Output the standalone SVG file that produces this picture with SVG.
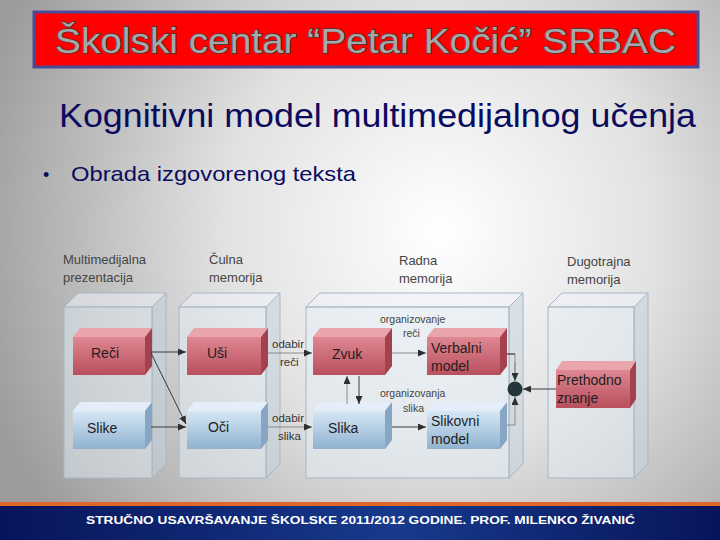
<svg xmlns="http://www.w3.org/2000/svg" width="720" height="540" viewBox="0 0 720 540">
<defs>
<radialGradient id="bg" cx="440" cy="230" r="480" gradientUnits="userSpaceOnUse">
<stop offset="0" stop-color="#ffffff"/>
<stop offset="0.45" stop-color="#e2e2e2"/>
<stop offset="1" stop-color="#9c9c9c"/>
</radialGradient>
<linearGradient id="foot" x1="0" y1="0" x2="1" y2="0">
<stop offset="0" stop-color="#08145a"/>
<stop offset="0.55" stop-color="#173a8c"/>
<stop offset="1" stop-color="#08145a"/>
</linearGradient>
<linearGradient id="redF" x1="0" y1="0" x2="0" y2="1">
<stop offset="0" stop-color="#de8792"/>
<stop offset="1" stop-color="#b84f5d"/>
</linearGradient>
<linearGradient id="bluF" x1="0" y1="0" x2="0" y2="1">
<stop offset="0" stop-color="#d6e7f5"/>
<stop offset="1" stop-color="#90b2d0"/>
</linearGradient>
<marker id="arr" markerWidth="8" markerHeight="7" refX="8" refY="3.5" orient="auto" markerUnits="userSpaceOnUse">
<path d="M0,0 L8,3.5 L0,7 z" fill="#2f2f2f"/>
</marker>
<style>
.cf{fill:#e4edf5;fill-opacity:.5;stroke:#a7b6c4;stroke-width:1}
.ct{fill:#eef3f8;fill-opacity:.55;stroke:#a7b6c4;stroke-width:1}
.cs{fill:#c4d1dd;fill-opacity:.55;stroke:#a7b6c4;stroke-width:1}
.rf{fill:url(#redF)}
.rt{fill:#e9a4ac}
.rs{fill:#a5414f}
.bf{fill:url(#bluF)}
.bt{fill:#e3eef8}
.bs{fill:#86a6c4}
.lab{font-family:"Liberation Sans",Arial,sans-serif;font-size:13px;fill:#454545}
.bl{font-family:"Liberation Sans",Arial,sans-serif;font-size:14px;fill:#1e1e1e}
.cl{font-family:"Liberation Sans",Arial,sans-serif;font-size:11.5px;fill:#333}
.ol{font-family:"Liberation Sans",Arial,sans-serif;font-size:10.5px;fill:#444}
.ln{fill:none;stroke:#3a3a3a;stroke-width:1}
.lg{fill:none;stroke:#8a8a8a;stroke-width:1}
</style>
</defs>
<rect width="720" height="540" fill="url(#bg)"/>

<g id="title">
<rect x="34" y="12" width="664" height="55" fill="#ff0000" stroke="#4b4b9a" stroke-width="3"/>
<text x="55" y="53" textLength="621" lengthAdjust="spacingAndGlyphs" font-family="'Liberation Sans',Arial,sans-serif" font-size="35" fill="#a8a8a8" stroke="#3c3c3c" stroke-width="1.3" paint-order="stroke">Školski centar “Petar Kočić” SRBAC</text>
</g>

<g id="subtitle">
<text x="59" y="127" textLength="637" lengthAdjust="spacingAndGlyphs" font-family="'Liberation Sans',Arial,sans-serif" font-size="33" fill="#0b0b5e">Kognitivni model multimedijalnog učenja</text>
</g>

<g id="bullet">
<text x="43" y="181" font-family="'Liberation Sans',Arial,sans-serif" font-size="18" fill="#0b0b5e">•</text>
<text x="71" y="181" textLength="285" lengthAdjust="spacingAndGlyphs" font-family="'Liberation Sans',Arial,sans-serif" font-size="21" fill="#0b0b5e">Obrada izgovorenog teksta</text>
</g>

<g id="containers">
<g id="c1">
<polygon class="ct" points="64,307 78,293 166,293 152,307"/>
<polygon class="cs" points="152,307 166,293 166,464 152,478"/>
<rect class="cf" x="64" y="307" width="88" height="171"/>
<text class="lab" x="63" y="264">Multimedijalna</text>
<text class="lab" x="63" y="282">prezentacija</text>
</g>
<g id="c2">
<polygon class="ct" points="179,307 193,293 280,293 266,307"/>
<polygon class="cs" points="266,307 280,293 280,464 266,478"/>
<rect class="cf" x="179" y="307" width="87" height="171"/>
<text class="lab" x="209" y="264">Čulna</text>
<text class="lab" x="209" y="282">memorija</text>
</g>
<g id="c3">
<polygon class="ct" points="306,307 320,293 523,293 509,307"/>
<polygon class="cs" points="509,307 523,293 523,464 509,478"/>
<rect class="cf" x="306" y="307" width="203" height="171"/>
<text class="lab" x="399" y="265">Radna</text>
<text class="lab" x="399" y="283">memorija</text>
</g>
<g id="c4">
<polygon class="ct" points="548,307 562,293 648,293 634,307"/>
<polygon class="cs" points="634,307 648,293 648,464 634,478"/>
<rect class="cf" x="548" y="307" width="86" height="171"/>
<text class="lab" x="567" y="266">Dugotrajna</text>
<text class="lab" x="567" y="284">memorija</text>
</g>
</g>

<g id="reci">
<polygon class="rt" points="73,337 80,328 152,328 145,337"/>
<polygon class="rs" points="145,337 152,328 152,366 145,375"/>
<rect class="rf" x="73" y="337" width="72" height="38"/>
<text class="bl" x="91" y="358">Reči</text>
</g>
<g id="slike">
<polygon class="bt" points="73,411 80,402 152,402 145,411"/>
<polygon class="bs" points="145,411 152,402 152,440 145,449"/>
<rect class="bf" x="73" y="411" width="72" height="38"/>
<text class="bl" x="87" y="433">Slike</text>
</g>
<g id="usi">
<polygon class="rt" points="187,337 194,328 268,328 261,337"/>
<polygon class="rs" points="261,337 268,328 268,366 261,375"/>
<rect class="rf" x="187" y="337" width="74" height="38"/>
<text class="bl" x="207" y="358">Uši</text>
</g>
<g id="oci">
<polygon class="bt" points="187,411 194,402 268,402 261,411"/>
<polygon class="bs" points="261,411 268,402 268,440 261,449"/>
<rect class="bf" x="187" y="411" width="74" height="38"/>
<text class="bl" x="208" y="432">Oči</text>
</g>
<g id="zvuk">
<polygon class="rt" points="313,337 320,328 392,328 385,337"/>
<polygon class="rs" points="385,337 392,328 392,366 385,375"/>
<rect class="rf" x="313" y="337" width="72" height="38"/>
<text class="bl" x="332" y="359">Zvuk</text>
</g>
<g id="slika">
<polygon class="bt" points="313,411 320,402 392,402 385,411"/>
<polygon class="bs" points="385,411 392,402 392,440 385,449"/>
<rect class="bf" x="313" y="411" width="72" height="38"/>
<text class="bl" x="328" y="433">Slika</text>
</g>
<g id="verbalni">
<polygon class="rt" points="427,337 434,328 507,328 500,337"/>
<polygon class="rs" points="500,337 507,328 507,366 500,375"/>
<rect class="rf" x="427" y="337" width="73" height="38"/>
<text class="bl" x="431" y="353">Verbalni</text>
<text class="bl" x="431" y="371">model</text>
</g>
<g id="slikovni">
<polygon class="bt" points="427,411 434,402 507,402 500,411"/>
<polygon class="bs" points="500,411 507,402 507,440 500,449"/>
<rect class="bf" x="427" y="411" width="73" height="38"/>
<text class="bl" x="431" y="426">Slikovni</text>
<text class="bl" x="431" y="444">model</text>
</g>
<g id="prethodno">
<polygon class="rt" points="556,370 562,361 636,361 630,370"/>
<polygon class="rs" points="630,370 636,361 636,399 630,408"/>
<rect class="rf" x="556" y="370" width="74" height="38"/>
<text class="bl" x="557" y="385">Prethodno</text>
<text class="bl" x="557" y="403">znanje</text>
</g>

<g id="connectors">
<path class="ln" d="M151,352 L186,352" marker-end="url(#arr)"/>
<path class="ln" d="M151,353 L186,424" marker-end="url(#arr)"/>
<path class="ln" d="M151,427 L186,427" marker-end="url(#arr)"/>
<path class="lg" d="M268,353 L312,353" marker-end="url(#arr)"/>
<path class="lg" d="M268,427 L312,427" marker-end="url(#arr)"/>
<path class="lg" d="M392,353 L426,353" marker-end="url(#arr)"/>
<path class="ln" d="M392,427 L426,427" marker-end="url(#arr)"/>
<path class="lg" d="M347,404 L347,376" marker-end="url(#arr)"/>
<path class="ln" d="M359,376 L359,404" marker-end="url(#arr)"/>
<path class="lg" d="M507,354 L515,354 L515,381"/>
<path class="ln" d="M507,354 L515,354"/>
<path class="lg" d="M515,362 L515,381" marker-end="url(#arr)"/>
<path class="lg" d="M507,425 L515,425 L515,397" marker-end="url(#arr)"/>
<path class="ln" d="M556,389 L523,389" marker-end="url(#arr)"/>
<circle cx="515" cy="389" r="7.5" fill="#263539"/>
<text class="cl" x="272" y="348">odabir</text>
<text class="cl" x="280" y="366">reči</text>
<text class="cl" x="272" y="422">odabir</text>
<text class="cl" x="278" y="440">slika</text>
<text class="ol" x="380" y="323">organizovanje</text>
<text class="ol" x="403" y="337">reči</text>
<text class="ol" x="380" y="397">organizovanja</text>
<text class="ol" x="403" y="412">slika</text>
</g>

<g id="footer">
<rect x="0" y="502" width="720" height="4" fill="#e0662a"/>
<rect x="0" y="506" width="720" height="34" fill="url(#foot)"/>
<text x="86" y="524" textLength="549" lengthAdjust="spacingAndGlyphs" font-family="'Liberation Sans',Arial,sans-serif" font-size="11.5" font-weight="bold" fill="#ffffff">STRUČNO USAVRŠAVANJE ŠKOLSKE 2011/2012 GODINE. PROF. MILENKO ŽIVANIĆ</text>
</g>
</svg>
